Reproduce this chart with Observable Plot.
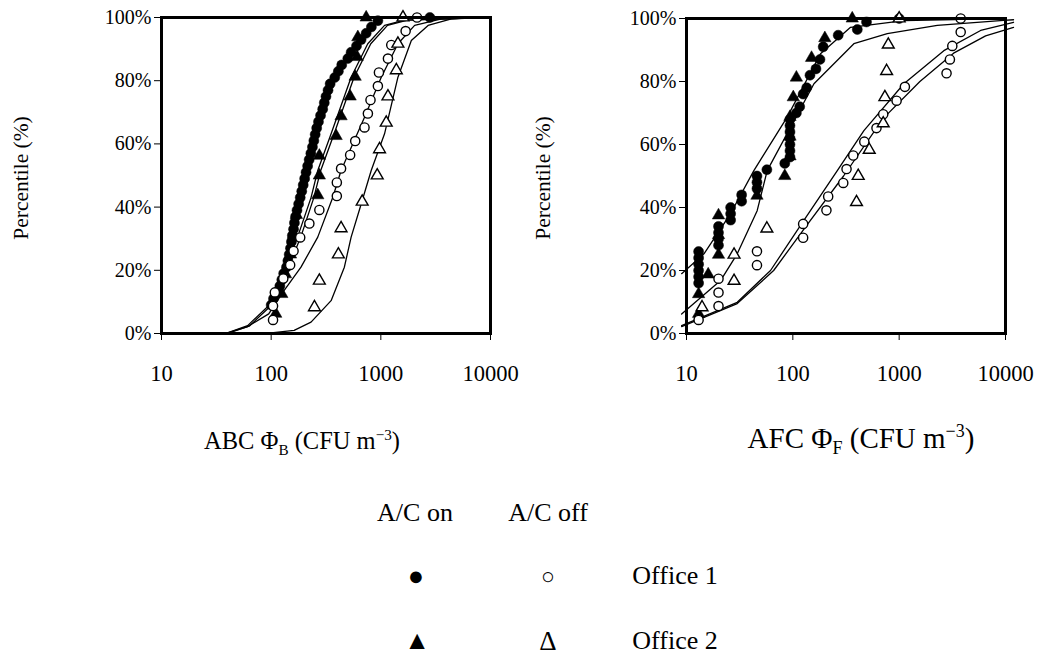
<!DOCTYPE html>
<html>
<head>
<meta charset="utf-8">
<script src="https://cdn.jsdelivr.net/npm/d3@7"></script>
<script src="https://cdn.jsdelivr.net/npm/@observablehq/plot@0.6"></script>
<style>
  html, body { margin: 0; padding: 0; background: #fff; }
  #wrap { position: relative; width: 1041px; height: 654px; overflow: hidden; background: #fff; font-family: "Liberation Serif", "Times New Roman", serif; color: #000; }
  .pl { position: absolute; top: 0; }
  .t { position: absolute; transform: translate(-50%, -50%); white-space: nowrap; line-height: 1; }
  .rot { transform: translate(-50%, -50%) rotate(-90deg); }
  sub, sup { font-size: 0.62em; line-height: 0; }
  svg g[aria-label^="x-axis"] text { font-size: 22.5px; }
  svg g[aria-label^="y-axis"] text { font-size: 20px; }
</style>
</head>
<body>
<div id="wrap">
  <div id="left" class="pl" style="left:0px"></div>
  <div id="right" class="pl" style="left:520px"></div>
</div>
<script>
// ---------- tick labels ----------
const xTicks = [10, 100, 1000, 10000];
const yTicks = [0, 20, 40, 60, 80, 100];

// ---------- Left panel: ABC ----------
// A/C on, Office 1 (filled circles)
const abcOnO1X = [100,105,115,120,125,130,138,142,146,150,153,156,160,163,167,172,178,184,190,196,202,208,215,222,230,238,245,252,260,270,282,295,305,316,330,345,380,410,440,500,536,600,661,735,820,940,2800];
const abcOnO1Y = [9,11,13,15,17,19,21,23,25,27,29,31,33,35,37,39,41,43,45,47,49,51,53,55,57,59,61,63,65,67,69,71,73,75,77,79,81,83,85,87,89,91,93,95,97,99,100];
// A/C on, Office 2 (filled triangles)
const abcOnO2X = [110,125,135,150,160,170,266,275,275,391,434,525,583,608,617,735];
const abcOnO2Y = [6.25,12.5,18.75,25,31.25,37.5,43.75,50,56.25,62.5,68.75,75,81.25,87.5,93.75,100];
// A/C off, Office 1 (open circles)
const abcOffO1X = [104,104,108,129,149,160,184,223,275,397,397,434,525,584,710,762,805,940,961,1161,1245,1683,2138];
const abcOffO1Y = [4.3,8.7,13,17.4,21.7,26.1,30.4,34.8,39.1,43.5,47.8,52.2,56.5,60.9,65.2,69.6,73.9,78.3,82.6,87,91.3,95.7,100];
// A/C off, Office 2 (open triangles)
const abcOffO2X = [248,275,410,434,676,927,973,1120,1161,1384,1431,1592];
const abcOffO2Y = [8.3,16.7,25,33.3,41.7,50,58.3,66.7,75,83.3,91.7,100];
// fitted curves
const abcFitOnO1X = [40,61,99,131,174,231,266,352,536,760,1081,1640,8830];
const abcFitOnO1Y = [0.2,2.5,9.4,20,30.5,43,51.6,63.2,81.1,91.7,97.5,99.2,100];
const abcFitOnO2X = [40,63,104,140,186,245,283,375,570,810,1150,1750,8830];
const abcFitOnO2Y = [0.2,2.3,9.4,20,30.5,43,51.6,63.2,81.1,91.7,97.5,99.2,100];
const abcFitOffO1X = [40,61,95,131,187,266,365,434,710,1009,1432,2033,3573,8830];
const abcFitOffO1Y = [0,2.2,6.2,13.6,21,30.5,43.1,51.6,68.4,81.1,91.7,97.5,99.6,100];
const abcFitOffO2X = [40,100,162,231,352,465,536,662,817,1081,1432,1897,2696,4406,8830];
const abcFitOffO2Y = [0,0.2,1,3.6,10.4,21,30.5,41,51.6,63.2,81.1,92.7,97.5,99.6,100];

// ---------- Right panel: AFC ----------
const afcOnO1X = [13,13,13,13,13,13,20,20,20,20,26,26,26,33,33,46,46,46,57,84,94,94,94,94,94,94,94,108,116,125,135,145,165,180,193,267,404,493,1000];
const afcOnO1Y = [16,18,20,22,24,26,28,30,32,34,36,38,40,42,44,46,48,50,52,54,56,58,60,62,64,66,68,70,72,76,78,82,84,87,91,94.7,96.5,98.9,100];
const afcOnO2X = [13,13,16,20,20,20,46,84,94,94,94,101,108,150,200,362];
const afcOnO2Y = [6.25,12.5,18.75,25,31.25,37.5,43.75,50,56.25,62.5,68.75,75,81.25,87.5,93.75,100];
const afcOffO1X = [13,20,20,20,46,46,125,125,207,215,298,320,370,470,612,708,946,1132,2790,3000,3160,3790,3790];
const afcOffO1Y = [4.3,8.7,13,17.4,21.7,26.1,30.4,34.8,39.1,43.5,47.8,52.2,56.5,60.9,65.2,69.6,73.9,78.3,82.6,87,91.3,95.7,100];
const afcOffO2X = [14,28,28,57,397,412,523,708,734,762,790,1000];
const afcOffO2Y = [8.3,16.7,25,33.3,41.7,50,58.3,66.7,75,83.3,91.7,100];
const afcFitOnO1X = [9,14.6,25.9,43,88.5,182,349,1107,10000];
const afcFitOnO1Y = [19,25.3,38,51.7,68.7,88.8,97.2,99.3,100];
const afcFitOnO2X = [9,20.9,30,46.2,57.4,158,375,773,2282,9600,11900];
const afcFitOnO2Y = [6.2,16.8,25.3,39,51.7,79.3,92,95.2,97.8,99.4,99.6];
const afcFitOffO1X = [9,30,61.7,127,262,466,1107,2630,5834,11900];
const afcFitOffO1Y = [2.5,9.9,20,35.9,51.7,64.4,79.3,89.8,96.2,98.8];
const afcFitOffO2X = [9,30,66,135,300,708,1567,3250,6500,11900];
const afcFitOffO2Y = [2.2,9.5,20,34.3,50,68.3,80,89,94.5,97.2];

const pts = (xs, ys) => xs.map((v, i) => ({x: v, y: ys[i]}));

function panel(cfg) {
  const lineStyle = {x: "x", y: "y", stroke: "black", strokeWidth: 1.3};
  return Plot.plot({
    width: cfg.width, height: 400,
    marginLeft: cfg.ml, marginRight: cfg.mr, marginTop: cfg.mt, marginBottom: 67,
    style: {fontFamily: "Liberation Serif, serif", fontSize: "20px", color: "black", background: "transparent", overflow: "visible"},
    x: {type: "log", domain: [10, 10000], ticks: xTicks, tickFormat: d => String(d), tickSize: 7, tickPadding: 25, label: null},
    y: {domain: [0, 100], ticks: yTicks, tickFormat: d => d + "%", tickSize: 7, tickPadding: 3, label: null},
    marks: [
      ...cfg.fits.map(f => Plot.line(pts(f[0], f[1]), lineStyle)),
      Plot.dot(pts(cfg.onO1[0], cfg.onO1[1]), {x: "x", y: "y", r: 5, fill: "black", stroke: "black", strokeWidth: 0.5, symbol: "circle"}),
      Plot.dot(pts(cfg.onO2[0], cfg.onO2[1]), {x: "x", y: "y", r: 4.6, fill: "black", stroke: "black", strokeWidth: 0.5, symbol: "triangle"}),
      Plot.dot(pts(cfg.offO1[0], cfg.offO1[1]), {x: "x", y: "y", r: 4.6, fill: "white", stroke: "black", strokeWidth: 1.4, symbol: "circle"}),
      Plot.dot(pts(cfg.offO2[0], cfg.offO2[1]), {x: "x", y: "y", r: 4.4, fill: "white", stroke: "black", strokeWidth: 1.4, symbol: "triangle"}),
      Plot.frame({stroke: "black", strokeWidth: 3})
    ]
  });
}

document.getElementById("left").append(panel({
  width: 520, ml: 161, mr: 30, mt: 17,
  fits: [[abcFitOnO1X, abcFitOnO1Y], [abcFitOnO2X, abcFitOnO2Y], [abcFitOffO1X, abcFitOffO1Y], [abcFitOffO2X, abcFitOffO2Y]],
  onO1: [abcOnO1X, abcOnO1Y], onO2: [abcOnO2X, abcOnO2Y], offO1: [abcOffO1X, abcOffO1Y], offO2: [abcOffO2X, abcOffO2Y]
}));
document.getElementById("right").append(panel({
  width: 521, ml: 166, mr: 36, mt: 18,
  fits: [[afcFitOnO1X, afcFitOnO1Y], [afcFitOnO2X, afcFitOnO2Y], [afcFitOffO1X, afcFitOffO1Y], [afcFitOffO2X, afcFitOffO2Y]],
  onO1: [afcOnO1X, afcOnO1Y], onO2: [afcOnO2X, afcOnO2Y], offO1: [afcOffO1X, afcOffO1Y], offO2: [afcOffO2X, afcOffO2Y]
}));

// ---------- titles & legend (text) ----------
const wrap = document.getElementById("wrap");
function addText(html, x, y, size, extra) {
  const d = document.createElement("div");
  d.className = "t" + (extra ? " " + extra : "");
  d.style.left = x + "px"; d.style.top = y + "px"; d.style.fontSize = size + "px";
  d.innerHTML = html;
  wrap.append(d);
}
addText("Percentile (%)", 22, 178, 21.5, "rot");
addText("Percentile (%)", 544, 178, 21.5, "rot");
addText("ABC &Phi;<sub>B</sub> (CFU m<sup>&minus;3</sup>)", 302, 441, 24.5);
addText("AFC &Phi;<sub>F</sub> (CFU m<sup>&minus;3</sup>)", 861, 438, 29);
addText("A/C on", 415, 513, 26);
addText("A/C off", 548, 513, 26);
addText("&#9679;", 416, 576, 27);
addText("&#9675;", 548, 576, 23);
addText("Office 1", 675, 576, 26);
addText("&#9650;", 417, 641, 26);
addText("&Delta;", 548, 641, 27);
addText("Office 2", 675, 641, 26);
</script>
</body>
</html>
